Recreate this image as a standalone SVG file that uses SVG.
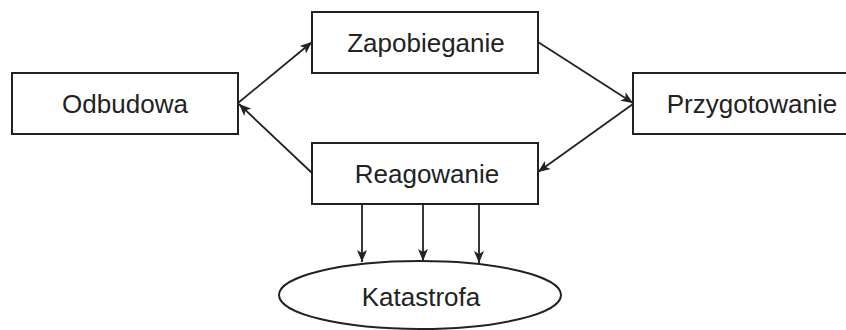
<svg xmlns="http://www.w3.org/2000/svg" width="846" height="330" viewBox="0 0 846 330">
<style>
.box{fill:#fff;stroke:#222;stroke-width:2}
.lbl{font-family:"Liberation Sans",Arial,sans-serif;font-size:26px;fill:#222;text-anchor:middle}
.con{stroke:#222;stroke-width:1.8;fill:none;marker-end:url(#ah)}
</style>
<defs>
<marker id="ah" viewBox="0 0 12 10" refX="12" refY="5" markerWidth="12" markerHeight="10" markerUnits="userSpaceOnUse" orient="auto">
<path d="M0,0 L12,5 L0,10 L3,5 Z" fill="#222"/>
</marker>
</defs>
<rect width="846" height="330" fill="#fff"/>
<g id="connectors">
<line class="con" x1="238" y1="103" x2="312" y2="42"/>
<line class="con" x1="538" y1="42" x2="633" y2="103"/>
<line class="con" x1="633" y1="104" x2="538" y2="172"/>
<line class="con" x1="312" y1="173" x2="239" y2="104"/>
<line class="con" x1="362" y1="204" x2="362" y2="262"/>
<line class="con" x1="423" y1="204" x2="423" y2="261"/>
<line class="con" x1="479" y1="204" x2="479" y2="263"/>
</g>
<g id="odbudowa">
<rect class="box" x="12" y="73" width="226" height="61"/>
<text class="lbl" x="125" y="113">Odbudowa</text>
</g>
<g id="zapobieganie">
<rect class="box" x="312" y="12" width="226" height="61"/>
<text class="lbl" x="426" y="52">Zapobieganie</text>
</g>
<g id="przygotowanie">
<rect class="box" x="633" y="73" width="226" height="61"/>
<text class="lbl" x="752" y="113">Przygotowanie</text>
</g>
<g id="reagowanie">
<rect class="box" x="312" y="143" width="226" height="61"/>
<text class="lbl" x="427" y="183">Reagowanie</text>
</g>
<g id="katastrofa">
<ellipse class="box" cx="420" cy="295" rx="141" ry="34"/>
<text class="lbl" x="421" y="306">Katastrofa</text>
</g>
</svg>
